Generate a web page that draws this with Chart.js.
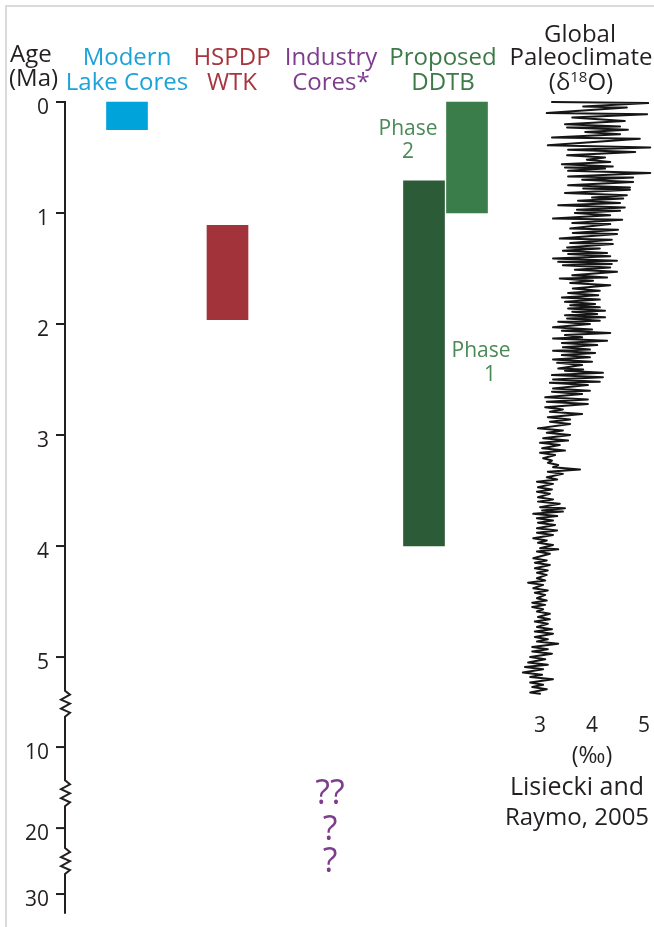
<!DOCTYPE html>
<html>
<head>
<meta charset="utf-8">
<script src="https://cdn.jsdelivr.net/npm/chart.js@4.4.0/dist/chart.umd.min.js"></script>
<style>
  body { margin: 0; background: #fff; }
  #wrap { width: 654px; height: 927px; position: relative; }
</style>
</head>
<body>
<div id="wrap"><canvas id="myChart"></canvas></div>
<script>
'use strict';
// age axis in Ma, broken below ~5.4
let ageTicks = [0, 1, 2, 3, 4, 5, 10, 20, 30];
let ageBreaks = [5.42, 15.7, 25];
let ageAxisEnd = 33;
// knots of the broken axis: age -> position along the drawn axis
let knotAge = [0, 5.45, 10, 20, 30];
let knotPos = [0, 5.45, 5.811, 6.541, 7.135];

// core / drilling intervals
let coreNames = ['Modern Lake Cores', 'HSPDP WTK', 'Phase 1', 'Phase 2'];
let coreColumn = [1, 2.005, 3.97, 4.4];
let coreTop = [0, 1.11, 0.71, 0];
let coreBottom = [0.25, 1.96, 4.0, 1.0];
let coreColors = ['#00a3da', '#a3333a', '#2c5b38', '#3a7c4a'];

// industry cores: unknown ages
let industryQAge = [15.5, 20, 24.8];
let industryQText = ['??', '?', '?'];

// Lisiecki & Raymo 2005 benthic d18O stack
let d18oAge = [
  0.00, 0.01, 0.04, 0.05, 0.10, 0.11, 0.14, 0.17, 0.20, 0.22, 0.23, 0.25, 0.27, 0.29, 0.32, 0.33,
  0.39, 0.41, 0.43, 0.45, 0.48, 0.50, 0.52, 0.54, 0.56, 0.58, 0.59, 0.60, 0.62, 0.64, 0.67, 0.68,
  0.70, 0.72, 0.75, 0.77, 0.78, 0.79, 0.82, 0.84, 0.86, 0.87, 0.89, 0.91, 0.93, 0.95, 0.97, 0.98,
  1.00, 1.02, 1.05, 1.06, 1.09, 1.10, 1.14, 1.15, 1.18, 1.19, 1.23, 1.24, 1.27, 1.28, 1.31, 1.32,
  1.34, 1.36, 1.37, 1.39, 1.41, 1.43, 1.44, 1.46, 1.47, 1.49, 1.51, 1.53, 1.56, 1.58, 1.59, 1.61,
  1.63, 1.65, 1.68, 1.70, 1.72, 1.74, 1.76, 1.78, 1.80, 1.82, 1.83, 1.85, 1.86, 1.88, 1.89, 1.91,
  1.92, 1.94, 1.95, 1.97, 1.98, 2.00, 2.03, 2.05, 2.06, 2.08, 2.10, 2.12, 2.13, 2.15, 2.17, 2.19,
  2.21, 2.23, 2.24, 2.26, 2.28, 2.30, 2.32, 2.34, 2.35, 2.37, 2.40, 2.41, 2.42, 2.44, 2.46, 2.48,
  2.50, 2.52, 2.53, 2.55, 2.58, 2.60, 2.61, 2.63, 2.66, 2.68,
  2.70, 2.72, 2.75, 2.77, 2.79, 2.81, 2.84, 2.86, 2.88, 2.90, 2.94, 2.96, 2.98, 3.00, 3.03, 3.05,
  3.07, 3.09, 3.12, 3.14, 3.16, 3.18, 3.21, 3.23, 3.25, 3.27, 3.29, 3.31, 3.33, 3.35, 3.38, 3.40,
  3.42, 3.44, 3.47, 3.49, 3.51, 3.53, 3.56, 3.58, 3.60, 3.62, 3.65, 3.66, 3.68, 3.69, 3.71, 3.73,
  3.75, 3.77, 3.79, 3.81, 3.84, 3.86, 3.88, 3.90, 3.93, 3.95, 3.97, 3.99, 4.02, 4.03,
  4.05, 4.07, 4.11, 4.13, 4.15, 4.17, 4.20, 4.22, 4.24, 4.26, 4.29, 4.31, 4.33, 4.35, 4.38, 4.40,
  4.42, 4.44, 4.47, 4.49, 4.51, 4.53, 4.55, 4.57, 4.59, 4.61, 4.64, 4.66, 4.68, 4.70, 4.73, 4.75,
  4.77, 4.79, 4.82, 4.84, 4.86, 4.88, 4.91, 4.93, 4.95, 4.97, 5.00, 5.02, 5.05, 5.07, 5.09, 5.11,
  5.14, 5.16, 5.18, 5.20, 5.23, 5.25, 5.27, 5.29, 5.32, 5.33
];
let d18oVal = [
  3.23, 5.08, 3.83, 4.67, 3.13, 5.06, 3.62, 4.63, 3.48, 4.54, 3.52, 4.69, 3.87, 4.54, 3.23, 4.92,
  3.15, 5.12, 3.54, 4.83, 3.52, 4.25, 3.90, 4.35, 3.42, 4.40, 3.48, 4.25, 3.54, 5.12, 3.54, 4.79,
  3.81, 4.79, 3.54, 4.73, 3.83, 4.73, 3.48, 4.67, 4.00, 4.60, 3.73, 4.54, 3.35, 4.63, 3.71, 4.54,
  3.67, 4.35, 3.25, 4.58, 3.62, 4.35, 3.58, 4.50, 3.63, 4.48, 3.38, 4.38, 3.58, 4.40, 3.52, 4.15,
  3.44, 4.29, 3.54, 4.35, 3.25, 4.48, 3.35, 4.38, 3.44, 4.35, 3.67, 4.48, 3.62, 4.29, 3.38, 4.02,
  3.58, 4.35, 3.63, 4.15, 3.54, 4.12, 3.42, 4.15, 3.48, 4.06, 3.58, 4.15, 3.54, 4.25, 3.62, 4.10,
  3.48, 4.25, 3.52, 4.15, 3.35, 3.96, 3.25, 4.00, 3.42, 4.35, 3.48, 3.81, 3.25, 4.29, 3.42, 4.10,
  3.44, 3.96, 3.25, 4.06, 3.42, 3.96, 3.25, 4.00, 3.33, 3.81, 3.35, 3.83, 3.48, 4.21, 3.23, 4.21,
  3.25, 4.15, 3.19, 3.92, 3.25, 3.96, 3.23, 3.81, 3.10, 3.92,
  3.13, 3.92, 3.10, 3.44, 3.19, 3.81, 3.15, 3.58, 3.19, 3.58, 2.96, 3.44, 3.13, 3.58, 3.06, 3.54,
  3.00, 3.38, 3.04, 3.48, 3.00, 3.29, 3.06, 3.23, 3.15, 3.35, 3.25, 3.77, 3.15, 3.44, 3.13, 3.33,
  2.94, 3.25, 2.96, 3.23, 2.94, 3.19, 2.96, 3.25, 2.96, 3.38, 3.00, 3.48, 3.04, 3.44, 2.87, 3.33,
  2.94, 3.25, 2.96, 3.29, 2.94, 3.33, 2.94, 3.25, 2.87, 3.13, 2.96, 3.25, 3.00, 3.35,
  2.94, 3.19, 2.87, 3.13, 2.90, 3.19, 2.90, 3.15, 2.94, 3.13, 2.94, 3.10, 2.77, 3.06, 2.87, 3.15,
  2.90, 3.10, 2.94, 3.13, 2.85, 3.10, 2.85, 3.06, 2.94, 3.19, 2.96, 3.19, 2.90, 3.15, 2.94, 3.23,
  2.90, 3.25, 2.90, 3.15, 2.94, 3.35, 2.85, 3.15, 2.85, 3.23, 2.81, 3.10, 2.77, 3.15, 2.71, 3.06,
  2.67, 3.04, 2.81, 3.25, 2.81, 3.06, 2.85, 3.13, 2.81, 3.00
];
let d18oTicks = [3, 4, 5];

const FONT = '"Open Sans", "DejaVu Sans", sans-serif';
const INK = '#231f20';

// age -> position on the broken axis
function agePos(a) {
  for (let i = 1; i < knotAge.length; i++) {
    if (a <= knotAge[i] || i === knotAge.length - 1) {
      let t = (a - knotAge[i - 1]) / (knotAge[i] - knotAge[i - 1]);
      return knotPos[i - 1] + t * (knotPos[i] - knotPos[i - 1]);
    }
  }
  return a;
}

let coreData = [];
for (let i = 0; i < coreNames.length; i++) {
  coreData.push({ x: coreColumn[i], y: [agePos(coreTop[i]), agePos(coreBottom[i])] });
}
let curveData = [];
for (let i = 0; i < d18oAge.length; i++) {
  curveData.push({ x: d18oVal[i], y: agePos(d18oAge[i]) });
}

function txt(c, s, x, y, size, color, align) {
  c.font = size + 'px ' + FONT;
  c.fillStyle = color;
  c.textAlign = align || 'center';
  c.textBaseline = 'alphabetic';
  c.fillText(s, x, y);
}

const overlay = {
  id: 'overlay',
  afterDraw(chart) {
    const c = chart.ctx;
    const ys = chart.scales.y;
    const xs = chart.scales.x;
    const x2 = chart.scales.x2;
    const py = a => ys.getPixelForValue(agePos(a));
    c.save();

    // faint frame at top / left
    c.strokeStyle = '#dadada';
    c.lineWidth = 2;
    c.beginPath();
    c.moveTo(6, 927); c.lineTo(6, 6); c.lineTo(654, 6);
    c.stroke();

    // age axis with zigzag breaks
    const ax = 65;
    const zig = [[0, -13], [5, -9], [-4, -4], [5, 0], [-4, 5], [5, 9], [0, 13]];
    c.strokeStyle = INK;
    c.lineWidth = 2;
    c.beginPath();
    c.moveTo(ax, py(0));
    for (let b = 0; b < ageBreaks.length; b++) {
      let yb = py(ageBreaks[b]);
      for (let k = 0; k < zig.length; k++) c.lineTo(ax + zig[k][0], yb + zig[k][1]);
    }
    c.lineTo(ax, py(ageAxisEnd));
    c.stroke();
    for (let i = 0; i < ageTicks.length; i++) {
      let yt = py(ageTicks[i]);
      c.beginPath();
      c.moveTo(ax - 9, yt); c.lineTo(ax + 1, yt);
      c.stroke();
      txt(c, String(ageTicks[i]), 49, yt + 11.5, 21, INK, 'right');
    }

    // column headers
    txt(c, 'Age', 10, 62, 24, INK, 'left');
    txt(c, '(Ma)', 9, 86, 24, INK, 'left');
    txt(c, 'Modern', 127, 65, 24, '#1ba3d9');
    txt(c, 'Lake Cores', 127, 90, 24, '#1ba3d9');
    txt(c, 'HSPDP', 232, 65, 24, '#a6353d');
    txt(c, 'WTK', 232, 90, 24, '#a6353d');
    txt(c, 'Industry', 331, 65, 24, '#7d3c8e');
    txt(c, 'Cores*', 331, 90, 24, '#7d3c8e');
    txt(c, 'Proposed', 443, 65, 24, '#3d7a47');
    txt(c, 'DDTB', 443, 90, 24, '#3d7a47');
    txt(c, 'Global', 580, 42, 24, INK);
    txt(c, 'Paleoclimate', 581, 65, 24, INK);
    // (δ18O) with superscript
    c.font = '24px ' + FONT;
    let wA = c.measureText('(δ').width, wC = c.measureText('O)').width;
    c.font = '15px ' + FONT;
    let wB = c.measureText('18').width;
    let sx = 581 - (wA + wB + wC) / 2;
    txt(c, '(δ', sx, 90, 24, INK, 'left');
    txt(c, '18', sx + wA, 82, 15, INK, 'left');
    txt(c, 'O)', sx + wA + wB, 90, 24, INK, 'left');

    // phase labels
    txt(c, 'Phase', 408, 135, 21, '#4a8a57');
    txt(c, '2', 408, 158, 21, '#4a8a57');
    txt(c, 'Phase', 481, 357, 21, '#4a8a57');
    txt(c, '1', 490, 381, 21, '#4a8a57');

    // industry cores question marks
    for (let i = 0; i < industryQAge.length; i++) {
      txt(c, industryQText[i], xs.getPixelForValue(3.03), py(industryQAge[i]) + 12, 34, '#7d3c8e');
    }

    // d18O axis labels
    for (let i = 0; i < d18oTicks.length; i++) {
      txt(c, String(d18oTicks[i]), x2.getPixelForValue(d18oTicks[i]), 732, 21, INK);
    }
    txt(c, '(‰)', 592, 763, 23, INK);
    txt(c, 'Lisiecki and', 577, 795, 25, INK);
    txt(c, 'Raymo, 2005', 577, 825, 24, INK);
    c.restore();
  }
};

const ctx = document.getElementById('myChart').getContext('2d');
const myChart = new Chart(ctx, {
  type: 'bar',
  data: {
    datasets: [
      {
        label: 'Cores',
        data: coreData,
        backgroundColor: coreColors,
        grouped: false,
        barPercentage: 1,
        categoryPercentage: 1,
        maxBarThickness: 41,
        borderWidth: 0,
        xAxisID: 'x',
        yAxisID: 'y'
      },
      {
        type: 'line',
        label: 'd18O',
        data: curveData,
        borderColor: '#151515',
        borderWidth: 2,
        borderJoinStyle: 'round',
        borderCapStyle: 'round',
        pointRadius: 0,
        tension: 0,
        fill: false,
        xAxisID: 'x2',
        yAxisID: 'y'
      }
    ]
  },
  options: {
    responsive: true,
    maintainAspectRatio: false,
    animation: false,
    layout: { padding: 0 },
    plugins: { legend: { display: false }, tooltip: { enabled: false } },
    scales: {
      x: { type: 'linear', min: -0.27, max: 6.27, offset: false, display: false, ticks: { count: 2 } },
      x2: { type: 'linear', min: -7.385, max: 5.192, offset: false, display: false },
      y: { type: 'linear', reverse: true, min: -0.919, max: 7.432, offset: false, display: false }
    }
  },
  plugins: [overlay]
});
</script>
</body>
</html>
